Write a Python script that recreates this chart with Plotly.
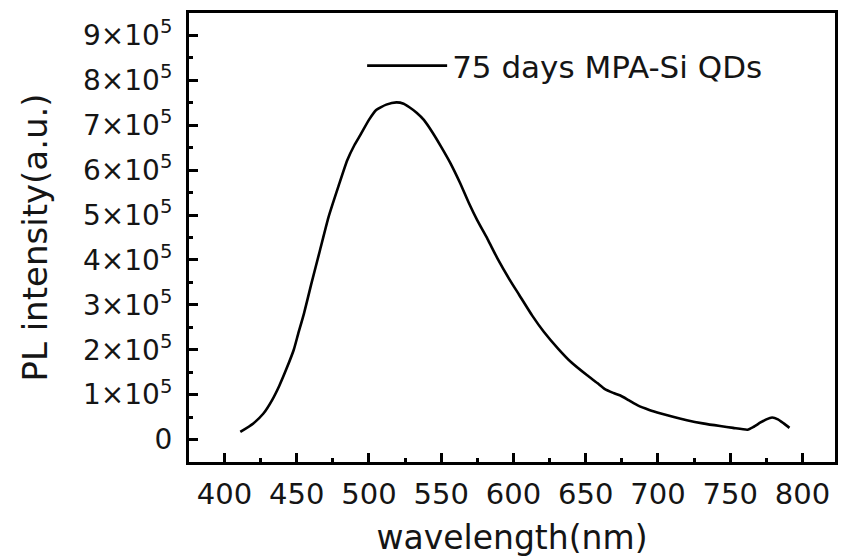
import plotly.graph_objects as go

# Data
wavelength_nm = [411, 420, 427, 433, 438, 443, 448, 451, 455, 460, 466, 472, 479, 485, 490, 494,
                 500, 505, 512, 519, 524, 528, 533, 538, 544, 550, 556, 563, 569, 575, 582, 589,
                 597, 604, 613, 621, 631, 640, 651, 658, 663, 669, 674, 680, 686, 694, 702, 711,
                 720, 731, 743, 752, 762, 766, 771, 775, 779, 783, 787, 791]
pl_intensity = [17000, 36000, 58000, 88000, 120000, 158000, 200000, 235000, 280000, 345000,
                420000, 495000, 565000, 622000, 656000, 678000, 712000, 734000, 746000, 751000,
                748000, 740000, 728000, 712000, 684000, 652000, 618000, 572000, 528000, 488000,
                447000, 403000, 358000, 322000, 276000, 240000, 202000, 172000, 143000, 126000,
                113000, 104000, 98000, 87000, 76000, 66000, 58000, 50000, 43000, 36000,
                30000, 26000, 22000, 28000, 38000, 45000, 49000, 45000, 36000, 26000]
series_name = "75 days MPA-Si QDs"

x_tick_vals = [400, 450, 500, 550, 600, 650, 700, 750, 800]
y_tick_vals = [0, 100000, 200000, 300000, 400000, 500000, 600000, 700000, 800000, 900000]
y_tick_text = ["0"] + [f"{k}×10<sup>5</sup>" for k in range(1, 10)]

FONT = "DejaVu Sans"
TXT = "#151515"

fig = go.Figure()
fig.add_trace(go.Scatter(
    x=wavelength_nm, y=pl_intensity, mode="lines", name=series_name,
    line=dict(color="black", width=2.6, shape="spline", smoothing=0.5), showlegend=True,
))

fig.update_layout(
    width=843, height=557,
    margin=dict(l=189, r=5, t=13, b=95),
    paper_bgcolor="white", plot_bgcolor="white",
    font=dict(family=FONT, color=TXT),
    showlegend=True,
    legend=dict(x=0.268, y=0.882, xanchor="left", yanchor="middle",
                bgcolor="rgba(0,0,0,0)", font=dict(family=FONT, size=31, color=TXT),
                itemwidth=80),
)

fig.update_xaxes(
    range=[375.5, 822.5], tickvals=x_tick_vals,
    showline=True, linecolor="black", linewidth=3, mirror=True,
    ticks="inside", ticklen=9, tickwidth=3, tickcolor="black",
    minor=dict(ticks="inside", ticklen=4, tickwidth=3, tickcolor="black", dtick=25, tick0=400),
    showgrid=False, zeroline=False,
    tickfont=dict(family=FONT, size=29, color=TXT),
    ticklabelstandoff=4,
    title=dict(text="wavelength(nm)", font=dict(family=FONT, size=33, color=TXT), standoff=18),
)
fig.update_yaxes(
    range=[-50000, 950000], tickvals=y_tick_vals, ticktext=y_tick_text,
    showline=True, linecolor="black", linewidth=3, mirror=True,
    ticks="inside", ticklen=9, tickwidth=3, tickcolor="black",
    minor=dict(ticks="inside", ticklen=4, tickwidth=3, tickcolor="black", dtick=50000, tick0=0),
    showgrid=False, zeroline=False,
    tickfont=dict(family=FONT, size=28, color=TXT),
    ticklabelstandoff=8,
    title=dict(text="PL intensity(a.u.)", font=dict(family=FONT, size=34, color=TXT), standoff=26),
)

fig.write_html("out.html")
